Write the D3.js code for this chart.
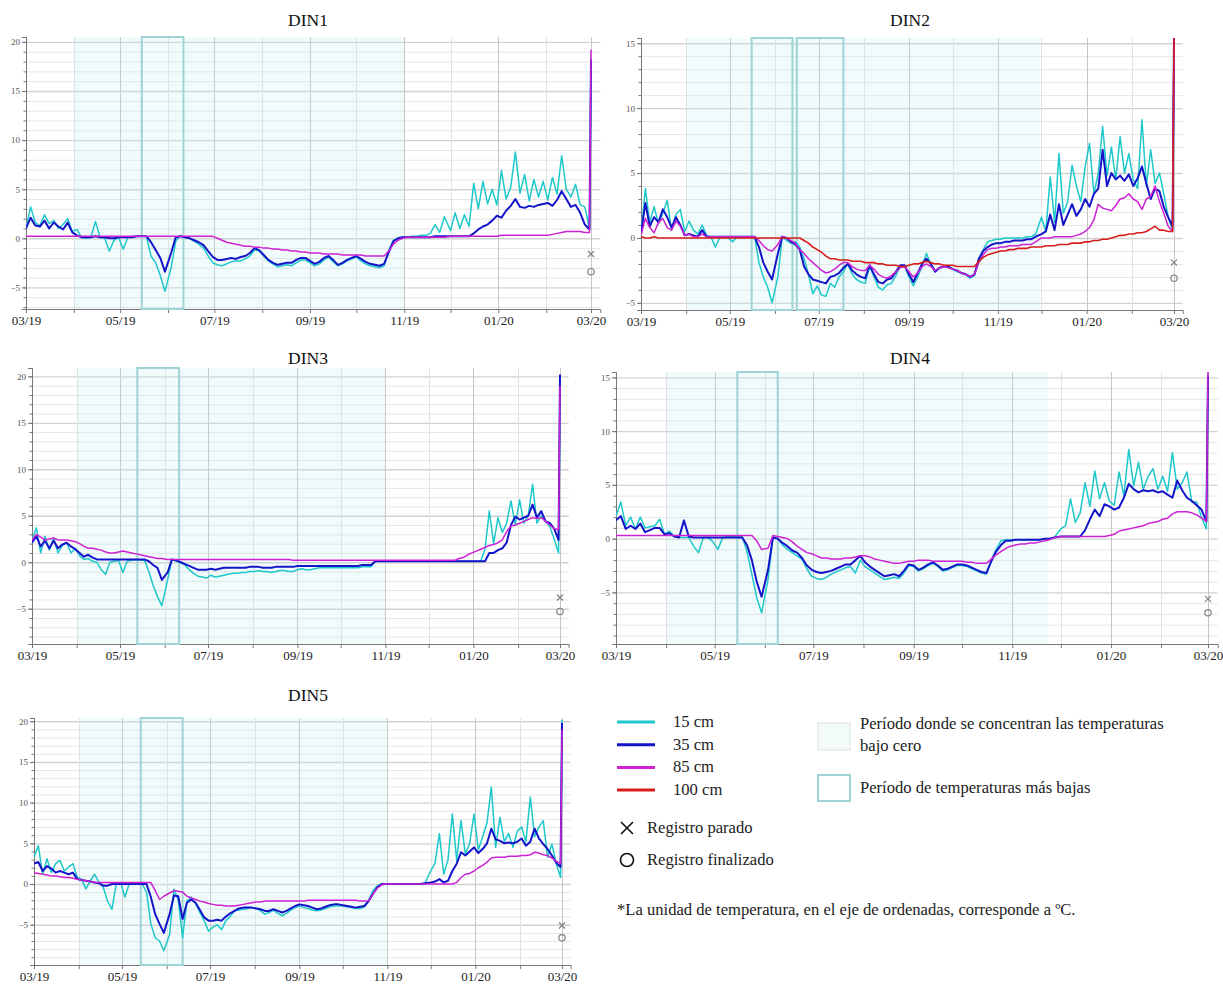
<!DOCTYPE html>
<html>
<head>
<meta charset="utf-8">
<script src="https://cdn.jsdelivr.net/npm/d3@7/dist/d3.min.js"></script>
<style>
    body { margin: 0; background: #fff; }
    svg { display: block; }
    svg text { font-family: "Liberation Serif", Tinos, "Times New Roman", Times, "DejaVu Serif", serif; }
</style>
</head>
<body>
<svg id="chart" width="1223" height="984"></svg>
<script>
// ---- data (one value every ~3 days from 01/03/2019, last value = 01/03/2020) ----
var panelNames = ["DIN1", "DIN2", "DIN3", "DIN4", "DIN5"];
var depthLabels = ["15 cm", "35 cm", "85 cm", "100 cm"];

var din1_15 = [1.0, 3.2, 1.6, 1.3, 2.4, 1.5, 1.8, 1.0, 1.4, 2.0,
    0.7, 0.9, 0.1, 0.0, 0.1, 1.7, 0.1, 0.0, -1.3, -0.2,
    0.1, -1.1, 0.1, 0.2, 0.2, 0.2, 0.2, -1.8, -2.5, -3.8,
    -5.4, -3.0, -0.3, 0.3, 0.1, 0.0, -0.3, -0.6, -1.0, -1.8,
    -2.5, -2.7, -2.8, -2.6, -2.4, -2.3, -2.3, -2.1, -1.8, -1.2,
    -1.3, -1.8, -2.3, -2.6, -2.9, -2.8, -2.7, -2.8, -2.5, -2.2,
    -2.2, -2.5, -2.8, -2.6, -2.2, -1.9, -2.4, -2.8, -2.6, -2.3,
    -2.1, -1.9, -2.3, -2.6, -2.8, -2.9, -3.0, -2.8, -1.2, -0.2,
    0.0, 0.1, 0.1, 0.2, 0.2, 0.3, 0.3, 0.5, 1.4, 0.6,
    2.2, 0.8, 2.6, 1.0, 2.4, 1.2, 5.6, 3.0, 5.8, 3.5,
    5.0, 3.4, 6.9, 4.0, 5.2, 8.8, 4.6, 6.5, 3.8, 6.0,
    4.2, 5.8, 3.9, 6.2, 4.5, 8.4, 5.0, 4.2, 5.5, 3.4,
    3.2, 1.0, 17.0];
var din1_35 = [1.0, 2.1, 1.3, 1.2, 1.8, 1.0, 1.6, 1.2, 0.9, 1.6,
    0.6, 0.3, 0.1, 0.1, 0.1, 0.2, 0.1, 0.1, 0.0, 0.0,
    0.1, 0.1, 0.1, 0.1, 0.2, 0.2, 0.2, -0.4, -1.2, -2.0,
    -3.4, -1.5, 0.1, 0.2, 0.1, 0.0, -0.2, -0.4, -0.7, -1.3,
    -1.9, -2.2, -2.2, -2.1, -2.0, -2.1, -1.9, -1.8, -1.5, -1.0,
    -1.2, -1.7, -2.2, -2.5, -2.7, -2.6, -2.5, -2.5, -2.2, -2.0,
    -2.0, -2.3, -2.6, -2.4, -2.0, -1.8, -2.2, -2.7, -2.5, -2.2,
    -2.0, -1.8, -2.1, -2.4, -2.6, -2.7, -2.8, -2.6, -1.4, -0.3,
    0.0, 0.1, 0.1, 0.1, 0.1, 0.1, 0.1, 0.1, 0.2, 0.2,
    0.2, 0.2, 0.2, 0.2, 0.2, 0.2, 0.5, 0.9, 1.2, 1.4,
    1.8, 2.3, 2.1, 2.8, 3.3, 4.0, 3.2, 3.1, 3.3, 3.2,
    3.4, 3.5, 3.6, 3.3, 3.9, 4.8, 4.0, 3.2, 3.4, 2.6,
    1.4, 0.9, 18.2];
var din1_85 = [0.2, 0.2, 0.2, 0.2, 0.2, 0.2, 0.2, 0.2, 0.2, 0.2,
    0.2, 0.2, 0.2, 0.2, 0.2, 0.2, 0.2, 0.2, 0.2, 0.2,
    0.2, 0.2, 0.2, 0.2, 0.2, 0.2, 0.2, 0.2, 0.2, 0.2,
    0.2, 0.2, 0.2, 0.2, 0.2, 0.2, 0.2, 0.2, 0.2, 0.2,
    0.2, 0.0, -0.2, -0.4, -0.5, -0.6, -0.7, -0.8, -0.8, -0.9,
    -0.9, -1.0, -1.0, -1.1, -1.1, -1.2, -1.2, -1.3, -1.3, -1.4,
    -1.4, -1.5, -1.5, -1.5, -1.6, -1.6, -1.6, -1.6, -1.7, -1.7,
    -1.7, -1.7, -1.7, -1.8, -1.8, -1.8, -1.8, -1.8, -1.3, -0.6,
    -0.2, 0.0, 0.1, 0.1, 0.1, 0.1, 0.1, 0.1, 0.1, 0.1,
    0.1, 0.2, 0.2, 0.2, 0.2, 0.2, 0.2, 0.2, 0.2, 0.2,
    0.2, 0.2, 0.3, 0.3, 0.3, 0.3, 0.3, 0.3, 0.3, 0.3,
    0.3, 0.3, 0.3, 0.4, 0.5, 0.6, 0.7, 0.7, 0.7, 0.7,
    0.6, 0.6, 19.2];

var din2_15 = [0.3, 3.8, 1.2, 2.4, 1.1, 1.9, 2.9, 0.6, 1.8, 2.2,
    0.5, 1.3, 0.6, 0.3, 1.0, 0.2, 0.1, -0.7, 0.0, 0.1,
    0.0, -0.3, 0.1, 0.1, 0.1, 0.1, 0.1, -1.9, -3.0, -3.8,
    -5.0, -3.0, 0.1, -0.2, -0.4, -0.3, -0.7, -1.6, -2.8, -4.3,
    -3.7, -4.4, -4.5, -3.5, -3.8, -3.0, -2.6, -2.0, -2.8, -3.2,
    -3.4, -3.5, -2.2, -3.0, -3.8, -4.0, -3.6, -3.5, -2.9, -2.2,
    -2.2, -3.0, -3.7, -3.0, -2.2, -1.2, -2.0, -2.5, -2.3, -2.2,
    -2.2, -2.4, -2.6, -2.7, -2.8, -3.1, -2.9, -1.8, -0.9, -0.3,
    -0.2, -0.1, -0.1, 0.0, 0.0, 0.0, 0.0, 0.0, 0.1, 0.1,
    0.3, 1.6, 0.5, 4.7, 1.2, 6.5, 1.9, 2.8, 5.6, 4.0,
    2.8, 5.5, 7.3, 3.4, 5.0, 8.6, 4.8, 7.0, 4.5, 7.8,
    5.0, 6.5, 4.5, 3.8, 9.1, 4.0, 6.8, 4.2, 5.0, 3.4,
    1.6, 0.6, 15.4];
var din2_35 = [0.3, 2.7, 0.9, 1.6, 1.2, 2.2, 1.6, 0.8, 1.6, 1.0,
    0.2, 0.3, 0.2, 0.1, 0.6, 0.1, 0.1, 0.1, 0.1, 0.1,
    0.1, 0.1, 0.1, 0.1, 0.1, 0.1, 0.1, -0.7, -1.9, -2.6,
    -3.2, -1.2, 0.1, 0.0, -0.3, -0.5, -0.9, -2.2, -2.8, -3.2,
    -3.3, -3.4, -3.5, -3.0, -2.9, -2.7, -2.3, -2.0, -2.5, -2.8,
    -3.0, -3.1, -2.1, -2.8, -3.4, -3.5, -3.2, -3.1, -2.6, -2.1,
    -2.1, -2.8, -3.4, -2.7, -2.0, -1.6, -2.0, -2.6, -2.3, -2.2,
    -2.2, -2.4, -2.5, -2.7, -2.8, -3.0, -2.8, -1.6, -1.0, -0.7,
    -0.5, -0.4, -0.4, -0.3, -0.3, -0.2, -0.2, -0.2, -0.1, -0.1,
    0.1, 0.3, 0.5, 1.8, 0.6, 2.6, 1.0, 1.8, 2.6, 1.7,
    2.2, 3.0, 2.4, 3.4, 3.8, 6.8, 4.0, 5.0, 4.5, 4.8,
    4.4, 4.9, 4.0, 4.6, 5.5, 4.2, 3.0, 3.8, 3.6, 2.4,
    1.6, 0.9, 15.4];
var din2_85 = [0.2, 1.5, 0.8, 0.4, 1.2, 1.5, 0.8, 0.6, 1.3, 0.9,
    0.2, 0.3, 0.1, 0.1, 0.3, 0.1, 0.1, 0.1, 0.1, 0.1,
    0.1, 0.1, 0.1, 0.1, 0.1, 0.1, 0.1, -0.2, -0.6, -0.9,
    -1.0, -0.5, 0.1, 0.0, -0.2, -0.4, -0.9, -1.2, -1.6, -1.9,
    -2.2, -2.5, -2.7, -2.6, -2.4, -2.1, -1.9, -1.9, -2.2, -2.4,
    -2.5, -2.5, -2.1, -2.4, -2.8, -3.0, -3.1, -2.9, -2.6, -2.3,
    -2.2, -2.6, -3.0, -2.7, -2.2, -2.0, -2.2, -2.5, -2.3, -2.2,
    -2.3, -2.4, -2.5, -2.7, -2.8, -3.0, -2.8, -1.9, -1.3, -0.9,
    -0.8, -0.8, -0.7, -0.7, -0.6, -0.6, -0.6, -0.5, -0.5, -0.5,
    -0.3, 0.0, 0.0, 0.0, 0.1, 0.1, 0.1, 0.1, 0.1, 0.2,
    0.3, 0.5, 0.8, 1.4, 2.6, 2.3, 2.2, 2.1, 2.5, 3.0,
    3.1, 3.4, 3.0, 2.8, 2.2, 3.0, 3.2, 4.0, 2.8, 1.9,
    0.9, 0.5, 15.4];
var din2_100 = [0.1, 0.0, 0.0, 0.1, 0.0, 0.0, 0.0, 0.0, 0.0, 0.0,
    0.0, 0.0, 0.0, 0.0, 0.0, 0.0, 0.0, 0.0, 0.0, 0.0,
    0.0, 0.0, 0.0, 0.0, 0.0, 0.0, 0.0, 0.0, 0.0, 0.0,
    0.0, 0.0, 0.0, 0.0, 0.0, 0.0, 0.0, -0.2, -0.4, -0.7,
    -0.9, -1.1, -1.4, -1.6, -1.6, -1.7, -1.7, -1.7, -1.8, -1.8,
    -1.8, -1.9, -1.9, -1.9, -2.0, -2.0, -2.1, -2.1, -2.1, -2.2,
    -2.2, -2.1, -2.0, -2.0, -1.9, -1.8, -1.9, -2.0, -2.0, -2.1,
    -2.1, -2.1, -2.2, -2.2, -2.2, -2.2, -2.2, -1.8, -1.5, -1.3,
    -1.2, -1.1, -1.0, -1.0, -0.9, -0.9, -0.8, -0.8, -0.8, -0.7,
    -0.7, -0.7, -0.6, -0.6, -0.6, -0.5, -0.5, -0.5, -0.4, -0.4,
    -0.4, -0.3, -0.3, -0.2, -0.2, -0.1, -0.1, 0.0, 0.1, 0.2,
    0.2, 0.3, 0.3, 0.4, 0.4, 0.5, 0.7, 0.9, 0.6, 0.6,
    0.5, 0.5, 15.6];

var din3_15 = [2.4, 3.7, 1.0, 2.8, 1.3, 2.6, 1.0, 1.8, 2.1, 1.0,
    1.5, 0.7, 0.3, 0.4, 0.1, 0.0, -0.8, -1.3, 0.0, 0.1,
    0.2, -1.1, 0.1, 0.2, 0.3, 0.2, 0.2, -1.0, -2.5, -3.7,
    -4.7, -1.9, 0.3, 0.1, 0.0, -0.3, -0.8, -1.2, -1.5, -1.6,
    -1.7, -1.4, -1.6, -1.5, -1.4, -1.3, -1.2, -1.2, -1.1, -1.1,
    -1.0, -1.0, -0.9, -1.0, -1.0, -1.1, -1.0, -0.9, -0.9, -1.0,
    -1.0, -0.8, -0.7, -0.8, -0.8, -0.7, -0.6, -0.6, -0.6, -0.6,
    -0.6, -0.6, -0.6, -0.6, -0.6, -0.6, -0.5, -0.5, -0.5, 0.1,
    0.1, 0.1, 0.1, 0.1, 0.1, 0.1, 0.1, 0.1, 0.1, 0.1,
    0.1, 0.1, 0.1, 0.1, 0.1, 0.1, 0.1, 0.1, 0.1, 0.1,
    0.1, 0.1, 0.1, 0.1, 1.4, 5.5, 2.0, 4.8, 3.2, 4.2,
    6.6, 4.0, 6.7, 4.2, 5.0, 8.4, 4.2, 5.0, 4.4, 3.8,
    2.5, 1.0, 18.0];
var din3_35 = [2.1, 2.8, 1.7, 2.3, 1.5, 2.3, 1.5, 1.9, 2.1, 1.7,
    1.4, 1.0, 0.6, 0.8, 0.5, 0.3, 0.3, 0.3, 0.3, 0.3,
    0.3, 0.3, 0.3, 0.3, 0.3, 0.3, 0.3, 0.1, -0.3, -0.6,
    -1.9, -1.1, 0.3, 0.2, 0.0, -0.2, -0.4, -0.6, -0.8, -0.8,
    -0.8, -0.7, -0.8, -0.7, -0.6, -0.6, -0.6, -0.6, -0.6, -0.6,
    -0.5, -0.5, -0.5, -0.6, -0.6, -0.6, -0.5, -0.5, -0.5, -0.5,
    -0.5, -0.4, -0.4, -0.4, -0.4, -0.4, -0.4, -0.4, -0.4, -0.4,
    -0.4, -0.4, -0.4, -0.4, -0.4, -0.4, -0.3, -0.3, -0.3, 0.1,
    0.1, 0.1, 0.1, 0.1, 0.1, 0.1, 0.1, 0.1, 0.1, 0.1,
    0.1, 0.1, 0.1, 0.1, 0.1, 0.1, 0.1, 0.1, 0.1, 0.1,
    0.1, 0.1, 0.1, 0.1, 0.1, 1.0, 1.0, 1.3, 1.5, 2.1,
    4.0, 4.9, 4.6, 4.8, 5.0, 6.2, 4.8, 5.5, 4.4, 4.2,
    3.6, 2.4, 20.2];
var din3_85 = [2.4, 3.0, 2.7, 2.4, 2.5, 2.6, 2.4, 2.4, 2.4, 2.3,
    2.2, 2.0, 1.7, 1.5, 1.5, 1.4, 1.3, 1.1, 1.0, 1.0,
    1.1, 1.2, 1.1, 1.0, 0.9, 0.8, 0.7, 0.6, 0.5, 0.4,
    0.4, 0.3, 0.3, 0.3, 0.3, 0.3, 0.3, 0.3, 0.3, 0.3,
    0.3, 0.3, 0.3, 0.3, 0.3, 0.3, 0.3, 0.3, 0.3, 0.3,
    0.3, 0.3, 0.3, 0.3, 0.3, 0.3, 0.3, 0.3, 0.3, 0.3,
    0.2, 0.2, 0.2, 0.2, 0.2, 0.2, 0.2, 0.2, 0.2, 0.2,
    0.2, 0.2, 0.2, 0.2, 0.2, 0.2, 0.2, 0.2, 0.2, 0.2,
    0.2, 0.2, 0.2, 0.2, 0.2, 0.2, 0.2, 0.2, 0.2, 0.2,
    0.2, 0.2, 0.2, 0.2, 0.2, 0.2, 0.2, 0.2, 0.4, 0.5,
    0.8, 1.0, 1.2, 1.4, 1.6, 1.8, 1.9, 2.1, 2.4, 3.3,
    3.9, 4.0, 4.2, 4.4, 4.6, 4.8, 4.7, 4.8, 4.4, 4.0,
    3.6, 3.5, 19.0];

var din4_15 = [2.1, 3.4, 1.2, 2.0, 0.9, 2.0, 1.0, 1.1, 1.2, 1.8,
    0.4, 0.7, 0.2, 0.1, 0.1, 0.1, -0.7, -1.3, 0.1, 0.1,
    -0.3, -1.0, 0.1, 0.2, 0.2, 0.2, 0.2, -1.2, -3.3, -5.5,
    -6.9, -3.8, 0.1, 0.0, -0.6, -1.0, -1.3, -1.6, -1.9, -2.8,
    -3.5, -3.7, -3.8, -3.6, -3.3, -3.1, -2.9, -2.7, -2.6, -3.2,
    -2.0, -2.6, -2.9, -3.2, -3.5, -3.8, -3.7, -3.6, -3.7, -3.2,
    -2.5, -2.6, -3.0, -2.8, -2.5, -2.3, -2.6, -3.0, -2.9, -2.7,
    -2.5, -2.5, -2.6, -2.8, -3.0, -3.2, -3.3, -2.0, -1.0, -0.2,
    -0.1, -0.1, -0.1, -0.1, -0.1, -0.1, -0.1, -0.1, 0.0, 0.0,
    0.1, 0.9, 1.2, 3.7, 1.5, 2.4, 5.2, 3.0, 6.3, 3.7,
    5.2, 3.5, 3.1, 6.2, 4.0, 8.3, 4.9, 7.1, 4.6, 5.8,
    6.5, 4.6, 5.8, 4.4, 8.0, 4.6, 5.2, 6.2, 3.4, 3.4,
    2.0, 0.9, 15.0];
var din4_35 = [1.7, 2.1, 0.9, 1.2, 0.9, 1.4, 0.6, 0.8, 1.0, 1.0,
    0.4, 0.5, 0.2, 0.1, 1.7, 0.2, 0.1, 0.1, 0.1, 0.1,
    0.1, 0.1, 0.1, 0.1, 0.1, 0.1, 0.1, -0.6, -2.0, -4.0,
    -5.4, -2.9, 0.1, 0.0, -0.4, -0.7, -1.1, -1.3, -1.8, -2.5,
    -2.9, -3.1, -3.2, -3.1, -3.0, -2.8, -2.6, -2.4, -2.4, -2.0,
    -1.6, -2.2, -2.6, -2.9, -3.2, -3.5, -3.4, -3.3, -3.5, -3.0,
    -2.4, -2.5, -2.9, -2.7, -2.4, -2.2, -2.5, -2.9, -2.8, -2.6,
    -2.4, -2.4, -2.5, -2.7, -2.9, -3.1, -3.2, -2.1, -1.2, -0.6,
    -0.2, -0.2, -0.1, -0.1, -0.1, -0.1, -0.1, -0.1, 0.0, 0.0,
    0.1, 0.2, 0.2, 0.2, 0.2, 0.2, 0.8, 1.8, 2.7, 2.1,
    3.2, 3.0, 2.7, 2.9, 3.8, 5.1, 4.6, 4.3, 4.5, 4.4,
    4.5, 4.3, 4.4, 4.1, 3.8, 5.4, 4.5, 3.8, 3.5, 3.1,
    2.7, 1.6, 15.2];
var din4_85 = [0.3, 0.3, 0.3, 0.3, 0.3, 0.3, 0.3, 0.3, 0.3, 0.3,
    0.3, 0.3, 0.3, 0.3, 0.3, 0.3, 0.3, 0.3, 0.3, 0.3,
    0.3, 0.3, 0.3, 0.3, 0.3, 0.3, 0.3, 0.3, 0.3, -0.2,
    -1.0, -0.9, 0.3, 0.2, 0.1, 0.0, -0.3, -0.7, -1.0, -1.3,
    -1.4, -1.6, -1.8, -1.8, -1.9, -1.9, -1.9, -1.8, -1.8, -1.7,
    -1.6, -1.6, -1.7, -1.9, -2.0, -2.1, -2.2, -2.3, -2.3, -2.2,
    -2.1, -2.1, -2.0, -2.0, -2.0, -2.1, -2.1, -2.1, -2.1, -2.1,
    -2.1, -2.1, -2.2, -2.2, -2.3, -2.3, -2.3, -1.9, -1.5, -1.2,
    -0.9, -0.7, -0.6, -0.5, -0.5, -0.4, -0.4, -0.3, -0.2, -0.1,
    0.1, 0.2, 0.2, 0.2, 0.2, 0.2, 0.2, 0.2, 0.2, 0.2,
    0.2, 0.3, 0.4, 0.7, 0.8, 0.9, 1.0, 1.1, 1.2, 1.4,
    1.5, 1.6, 1.8, 1.9, 2.3, 2.5, 2.5, 2.5, 2.4, 2.2,
    1.9, 1.6, 15.5];

var din5_15 = [3.3, 4.7, 1.2, 3.1, 1.4, 2.5, 2.9, 1.6, 2.1, 2.5,
    0.8, 0.6, -0.6, 0.4, 1.2, 0.2, -0.4, -2.1, -3.1, 0.0,
    0.2, -1.6, 0.0, 0.1, 0.1, 0.0, -1.0, -4.9, -6.6, -7.0,
    -8.2, -6.2, -0.6, -2.0, -6.6, -2.1, -1.6, -2.4, -3.5, -4.5,
    -5.8, -5.3, -5.0, -5.6, -4.5, -4.0, -3.3, -3.2, -3.1, -3.0,
    -2.9, -3.0, -3.3, -3.7, -3.5, -3.2, -3.6, -3.9, -3.6, -3.2,
    -2.9, -2.7, -2.9, -3.0, -3.2, -3.3, -3.2, -3.0, -2.8, -2.7,
    -2.7, -2.7, -2.8, -2.9, -3.0, -3.0, -2.8, -2.0, -0.8, -0.2,
    0.0, 0.0, 0.0, 0.0, 0.0, 0.0, 0.0, 0.0, 0.0, 0.0,
    0.1, 1.6, 2.6, 6.2, 1.2, 3.0, 8.6, 2.9, 7.8, 3.7,
    5.0, 8.6, 4.2, 5.8, 7.5, 11.9, 4.5, 8.2, 5.2, 6.2,
    4.5, 6.5, 7.0, 5.2, 10.7, 5.8, 7.0, 7.8, 3.3, 4.9,
    2.5, 0.8, 20.2];
var din5_35 = [2.5, 2.7, 1.6, 2.2, 1.9, 1.4, 1.6, 1.4, 1.2, 1.4,
    0.6, 0.5, 0.4, 0.3, 0.2, 0.1, -0.2, -0.2, 0.0, 0.0,
    0.0, 0.0, 0.0, 0.0, 0.0, 0.0, 0.0, -1.6, -3.7, -4.9,
    -6.0, -3.7, -1.4, -1.5, -4.3, -2.3, -1.9, -2.3, -3.2, -4.1,
    -4.5, -4.5, -4.4, -4.5, -4.0, -3.6, -3.3, -3.0, -2.9, -2.9,
    -2.9, -3.0, -3.1, -3.3, -3.3, -3.1, -3.3, -3.5, -3.3, -3.0,
    -2.7, -2.5, -2.6, -2.7, -2.9, -3.1, -3.0, -2.8, -2.6, -2.5,
    -2.5, -2.6, -2.7, -2.8, -2.9, -2.8, -2.7, -2.1, -1.2, -0.4,
    0.0, 0.0, 0.0, 0.0, 0.0, 0.0, 0.0, 0.0, 0.0, 0.0,
    0.1, 0.2, 0.3, 0.6, 0.2, 0.4, 1.6, 2.5, 3.9, 3.5,
    4.0, 4.5, 3.8, 4.3, 5.0, 6.8, 5.5, 5.3, 5.0, 5.1,
    5.0, 5.2, 5.6, 4.7, 5.2, 6.8, 5.6, 4.9, 4.3, 3.5,
    2.6, 2.1, 19.8];
var din5_85 = [1.4, 1.3, 1.2, 1.1, 1.0, 1.0, 0.9, 0.8, 0.8, 0.7,
    0.6, 0.5, 0.4, 0.3, 0.2, 0.2, 0.2, 0.2, 0.2, 0.2,
    0.2, 0.2, 0.2, 0.2, 0.2, 0.2, 0.2, 0.2, -0.8, -1.9,
    -1.5, -1.1, -0.8, -0.9, -1.0, -1.5, -1.7, -1.9, -2.1, -2.2,
    -2.4, -2.5, -2.6, -2.6, -2.7, -2.7, -2.7, -2.6, -2.5, -2.4,
    -2.3, -2.2, -2.2, -2.1, -2.1, -2.1, -2.1, -2.1, -2.1, -2.1,
    -2.1, -2.1, -2.1, -2.0, -2.0, -2.0, -2.0, -2.0, -2.0, -2.0,
    -2.0, -2.0, -2.0, -2.0, -2.0, -2.1, -2.1, -2.1, -1.2, -0.5,
    -0.1, 0.0, 0.0, 0.0, 0.0, 0.0, 0.0, 0.0, 0.0, 0.0,
    0.0, 0.0, 0.0, 0.0, 0.0, 0.0, 0.0, 0.2, 0.8, 1.2,
    1.3, 1.6, 2.0, 2.3, 2.7, 3.2, 3.3, 3.3, 3.3, 3.4,
    3.4, 3.4, 3.5, 3.5, 3.6, 3.9, 3.8, 3.6, 3.5, 3.2,
    2.8, 2.5, 19.0];

var panelSeries = [
    [din1_15, din1_35, din1_85],
    [din2_15, din2_35, din2_85, din2_100],
    [din3_15, din3_35, din3_85],
    [din4_15, din4_35, din4_85],
    [din5_15, din5_35, din5_85]
];

// period where sub-zero temperatures concentrate, and coldest periods
var shadeStart = ["2019-04-01", "2019-04-01", "2019-04-01", "2019-04-01", "2019-04-01"];
var shadeEnd = ["2019-11-01", "2019-11-30", "2019-11-01", "2019-11-23", "2019-11-01"];
var coldPeriods = [
    [["2019-05-15", "2019-06-11"]],
    [["2019-05-16", "2019-06-13"], ["2019-06-16", "2019-07-18"]],
    [["2019-05-13", "2019-06-11"]],
    [["2019-05-15", "2019-06-09"]],
    [["2019-05-14", "2019-06-12"]]
];
// registro parado (x) / registro finalizado (o) markers
var stopValues = [-1.6, -1.9, -3.8, -5.6, -5.1];
var endValues = [-3.4, -3.1, -5.3, -6.9, -6.6];
var yDomains = [[-7.2, 20.5], [-5.55, 15.4], [-8.8, 20.9], [-9.8, 15.5], [-9.95, 20.4]];

// ---- layout / styles ----
var layout = [
    {left: 26, m20: 591, top: 37, bottom: 309, titleX: 308, titleY: 26},
    {left: 641, m20: 1174, top: 38, bottom: 310, titleX: 910, titleY: 26},
    {left: 32, m20: 560, top: 368, bottom: 644, titleX: 308, titleY: 364},
    {left: 616, m20: 1208, top: 372, bottom: 644, titleX: 910, titleY: 364},
    {left: 34, m20: 562, top: 718, bottom: 965, titleX: 308, titleY: 701}
];
var depthColors = ["#1ec8ca", "#1414c8", "#cc22d4", "#d91c1c"];
var depthWidths = [1.5, 2, 1.5, 1.6];
var shadeColor = "rgba(196, 236, 238, 0.22)";
var boxColor = "#9fd3d6";
var serif = "'Liberation Serif', Tinos, 'Times New Roman', Times, 'DejaVu Serif', serif";

var parseDay = d3.timeParse("%Y-%m-%d");
var startDate = new Date(2019, 2, 1);
var markDate = new Date(2020, 2, 1);
var endDate = new Date(2020, 2, 7);
var fmtMonth = d3.timeFormat("%m/%y");

function sampleDate(i) {
    var day = Math.min(Math.round(i * 365 / 121), 366);
    return d3.timeDay.offset(startDate, day);
}

var svg = d3.select("#chart").attr("font-family", serif);
svg.append("rect").attr("width", 1223).attr("height", 984).attr("fill", "#fff");

panelNames.forEach(function (name, p) {
    var box = layout[p];
    var right = box.left + (box.m20 - box.left) * 372 / 366;
    var x = d3.scaleTime().domain([startDate, endDate]).range([box.left, right]);
    var y = d3.scaleLinear().domain(yDomains[p]).range([box.bottom, box.top]);
    var g = svg.append("g").attr("class", "panel");

    g.append("clipPath").attr("id", "clip" + p)
        .append("rect")
        .attr("x", box.left).attr("y", box.top)
        .attr("width", right - box.left + 2).attr("height", box.bottom - box.top);

    // grid
    var yUnits = d3.range(Math.ceil(yDomains[p][0]), Math.floor(yDomains[p][1]) + 1);
    g.append("g").selectAll("line")
        .data(yUnits)
        .enter().append("line")
        .attr("x1", box.left).attr("x2", right)
        .attr("y1", function (d) { return y(d) + 0.5; })
        .attr("y2", function (d) { return y(d) + 0.5; })
        .attr("stroke", function (d) { return d % 5 === 0 ? "#d2d2d2" : "#e6e6e6"; })
        .attr("stroke-width", function (d) { return d % 5 === 0 ? 1.4 : 1; });

    var months = d3.timeMonth.range(startDate, endDate);
    g.append("g").selectAll("line")
        .data(months)
        .enter().append("line")
        .attr("x1", function (d) { return Math.round(x(d)) + 0.5; })
        .attr("x2", function (d) { return Math.round(x(d)) + 0.5; })
        .attr("y1", box.top).attr("y2", box.bottom)
        .attr("stroke", function (d) { return d.getMonth() % 2 === 0 ? "#c6c6c6" : "#e2e2e2"; });

    // shaded period
    g.append("rect")
        .attr("x", x(parseDay(shadeStart[p])))
        .attr("y", box.top)
        .attr("width", x(parseDay(shadeEnd[p])) - x(parseDay(shadeStart[p])))
        .attr("height", box.bottom - box.top)
        .attr("fill", shadeColor);

    // axes
    var yAxis = d3.axisLeft(y)
        .tickValues(yUnits.filter(function (d) { return d % 5 === 0; }))
        .tickSize(4).tickPadding(2)
        .tickFormat(d3.format("d"));
    var ya = g.append("g").attr("transform", "translate(" + box.left + ",0)").call(yAxis)
        .attr("font-family", serif);
    ya.select(".domain").attr("stroke", "#777");
    ya.selectAll(".tick line").attr("stroke", "#777");
    ya.selectAll(".tick text").attr("fill", "#555").style("font-size", "9px");
    g.append("g").selectAll("line")
        .data(yUnits)
        .enter().append("line")
        .attr("x1", box.left - 2.5).attr("x2", box.left)
        .attr("y1", function (d) { return y(d) + 0.5; })
        .attr("y2", function (d) { return y(d) + 0.5; })
        .attr("stroke", "#777");

    var xAxis = d3.axisBottom(x)
        .tickValues(months)
        .tickSize(4).tickPadding(3)
        .tickFormat(function (d) { return d.getMonth() % 2 === 0 ? fmtMonth(d) : ""; });
    var xa = g.append("g").attr("transform", "translate(0," + box.bottom + ")").call(xAxis)
        .attr("font-family", serif);
    xa.select(".domain").attr("stroke", "#777");
    xa.selectAll(".tick line").attr("stroke", "#777");
    xa.selectAll(".tick text").attr("fill", "#222").style("font-size", "13px");

    // coldest periods
    g.append("g").selectAll("rect")
        .data(coldPeriods[p])
        .enter().append("rect")
        .attr("x", function (d) { return x(parseDay(d[0])); })
        .attr("y", box.top)
        .attr("width", function (d) { return x(parseDay(d[1])) - x(parseDay(d[0])); })
        .attr("height", box.bottom - box.top)
        .attr("fill", "none")
        .attr("stroke", boxColor)
        .attr("stroke-width", 2);

    // series
    var line = d3.line()
        .x(function (d, i) { return x(sampleDate(i)); })
        .y(function (d) { return y(d); });
    g.append("g").attr("clip-path", "url(#clip" + p + ")")
        .selectAll("path")
        .data(panelSeries[p])
        .enter().append("path")
        .attr("d", line)
        .attr("fill", "none")
        .attr("stroke", function (d, i) { return depthColors[i]; })
        .attr("stroke-width", function (d, i) { return depthWidths[i]; })
        .attr("stroke-linejoin", "round");

    // end of record markers
    var mx = x(markDate);
    var sy = y(stopValues[p]);
    g.append("path")
        .attr("d", "M" + (mx - 3) + "," + (sy - 3) + "L" + (mx + 3) + "," + (sy + 3) +
            "M" + (mx - 3) + "," + (sy + 3) + "L" + (mx + 3) + "," + (sy - 3))
        .attr("stroke", "#808080").attr("stroke-width", 1.2);
    g.append("circle")
        .attr("cx", mx).attr("cy", y(endValues[p])).attr("r", 3.2)
        .attr("fill", "none").attr("stroke", "#808080").attr("stroke-width", 1.2);

    g.append("text")
        .attr("x", box.titleX).attr("y", box.titleY)
        .attr("text-anchor", "middle")
        .style("font-size", "17.5px")
        .attr("fill", "#111")
        .text(name);
});

// ---- legend ----
var legend = svg.append("g").attr("class", "legend").style("font-size", "16.6px").attr("fill", "#222");
var legendRows = legend.selectAll("g.depth")
    .data(depthLabels)
    .enter().append("g").attr("class", "depth")
    .attr("transform", function (d, i) { return "translate(617," + (722 + i * 22.7) + ")"; });
legendRows.append("line")
    .attr("x1", 0).attr("x2", 38).attr("y1", 0).attr("y2", 0)
    .attr("stroke", function (d, i) { return depthColors[i]; })
    .attr("stroke-width", 3);
legendRows.append("text").attr("x", 56).attr("y", 5).text(function (d) { return d; });

legend.append("rect")
    .attr("x", 818).attr("y", 723).attr("width", 32).attr("height", 27)
    .attr("fill", "#f2fafa").attr("stroke", "#dfe6e6").attr("stroke-width", 1.2);
legend.append("text").attr("x", 860).attr("y", 729).text("Período donde se concentran las temperaturas");
legend.append("text").attr("x", 860).attr("y", 751).text("bajo cero");
legend.append("rect")
    .attr("x", 818).attr("y", 775).attr("width", 32).attr("height", 26)
    .attr("fill", "#fff").attr("stroke", boxColor).attr("stroke-width", 2);
legend.append("text").attr("x", 860).attr("y", 793).text("Período de temperaturas más bajas");

legend.append("path")
    .attr("d", "M621,822L633,834M621,834L633,822")
    .attr("stroke", "#111").attr("stroke-width", 1.6);
legend.append("text").attr("x", 647).attr("y", 833).text("Registro parado");
legend.append("circle").attr("cx", 627).attr("cy", 860).attr("r", 6.5)
    .attr("fill", "none").attr("stroke", "#111").attr("stroke-width", 1.6);
legend.append("text").attr("x", 647).attr("y", 865).text("Registro finalizado");
legend.append("text").attr("x", 617).attr("y", 915)
    .text("*La unidad de temperatura, en el eje de ordenadas, corresponde a ºC.");
</script>
</body>
</html>
